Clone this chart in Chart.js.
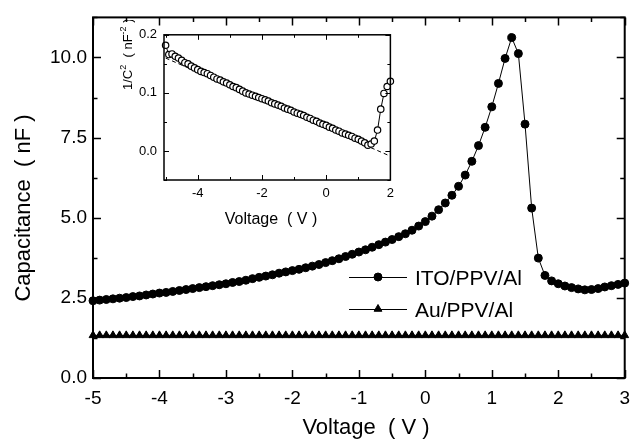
<!DOCTYPE html>
<html>
<head>
<meta charset="utf-8">
<title>C-V</title>
<script src="https://cdn.jsdelivr.net/npm/chart.js@4.4.1/dist/chart.umd.min.js"></script>
<style>
  html, body { margin: 0; padding: 0; background: #fff; }
  #wrap { position: relative; width: 639px; height: 445px; }
  #mainChart { position: absolute; left: 0; top: 0; }
  #insetChart { position: absolute; left: 110px; top: 20px; }
</style>
</head>
<body>
<div id="wrap">
  <canvas id="mainChart" width="639" height="445"></canvas>
  <canvas id="insetChart" width="290" height="215"></canvas>
</div>
<script>
// Bias voltage (V)
const voltage = [
  -5.0, -4.9, -4.8, -4.7, -4.6, -4.5, -4.4, -4.3, -4.2, -4.1,
  -4.0, -3.9, -3.8, -3.7, -3.6, -3.5, -3.4, -3.3, -3.2, -3.1,
  -3.0, -2.9, -2.8, -2.7, -2.6, -2.5, -2.4, -2.3, -2.2, -2.1,
  -2.0, -1.9, -1.8, -1.7, -1.6, -1.5, -1.4, -1.3, -1.2, -1.1,
  -1.0, -0.9, -0.8, -0.7, -0.6, -0.5, -0.4, -0.3, -0.2, -0.1,
  0.0, 0.1, 0.2, 0.3, 0.4, 0.5, 0.6, 0.7, 0.8, 0.9,
  1.0, 1.1, 1.2, 1.3, 1.4, 1.5, 1.6, 1.7, 1.8, 1.9,
  2.0, 2.1, 2.2, 2.3, 2.4, 2.5, 2.6, 2.7, 2.8, 2.9,
  3.0
];

// capacitance of ITO/PPV/Al (nF)
const capITO = [
  2.41, 2.43, 2.45, 2.47, 2.49, 2.51, 2.54, 2.56, 2.59, 2.62,
  2.65, 2.67, 2.70, 2.73, 2.76, 2.79, 2.82, 2.85, 2.88, 2.91,
  2.94, 2.98, 3.01, 3.05, 3.10, 3.14, 3.18, 3.22, 3.27, 3.31,
  3.35, 3.39, 3.44, 3.49, 3.54, 3.60, 3.66, 3.72, 3.79, 3.86,
  3.93, 4.00, 4.08, 4.16, 4.24, 4.32, 4.41, 4.50, 4.61, 4.74,
  4.88, 5.05, 5.25, 5.46, 5.70, 5.98, 6.33, 6.76, 7.25, 7.82,
  8.46, 9.19, 9.97, 10.62, 10.12, 7.92, 5.30, 3.74, 3.20, 3.03,
  2.94, 2.87, 2.82, 2.78, 2.75, 2.76, 2.79, 2.84, 2.88, 2.92,
  2.96
];

// capacitance of Au/PPV/Al (nF)
const capAu = [
  1.33, 1.33, 1.33, 1.33, 1.33, 1.33, 1.33, 1.33, 1.33, 1.33,
  1.33, 1.33, 1.33, 1.33, 1.33, 1.33, 1.33, 1.33, 1.33, 1.33,
  1.33, 1.33, 1.33, 1.33, 1.33, 1.33, 1.33, 1.33, 1.33, 1.33,
  1.33, 1.33, 1.33, 1.33, 1.33, 1.33, 1.33, 1.33, 1.33, 1.33,
  1.33, 1.33, 1.33, 1.33, 1.33, 1.33, 1.33, 1.33, 1.33, 1.33,
  1.33, 1.33, 1.33, 1.33, 1.33, 1.33, 1.33, 1.33, 1.33, 1.33,
  1.33, 1.33, 1.33, 1.33, 1.33, 1.33, 1.33, 1.33, 1.33, 1.33,
  1.33, 1.33, 1.33, 1.33, 1.33, 1.33, 1.33, 1.33, 1.33, 1.33,
  1.33
];

// inset: 1/C^2 of ITO/PPV/Al from -5 V to 2 V (nF^-2)
const invC2 = [
  0.182, 0.166, 0.167, 0.163, 0.160, 0.156, 0.152, 0.150, 0.146, 0.143,
  0.140, 0.137, 0.135, 0.133, 0.130, 0.127, 0.124, 0.122, 0.119, 0.117,
  0.114, 0.111, 0.109, 0.106, 0.103, 0.100, 0.098, 0.096, 0.094, 0.092,
  0.090, 0.088, 0.086, 0.083, 0.081, 0.079, 0.077, 0.074, 0.072, 0.070,
  0.067, 0.065, 0.063, 0.061, 0.058, 0.056, 0.053, 0.051, 0.048, 0.046,
  0.044, 0.041, 0.039, 0.036, 0.034, 0.031, 0.029, 0.027, 0.025, 0.022,
  0.020, 0.017, 0.014, 0.010, 0.012, 0.017, 0.036, 0.072, 0.099, 0.111,
  0.120
];

// linear fit of the depletion region (dashed)
const fitVoltage = [-5, 2];
const fitInvC2 = [0.160, -0.009];

// tick labels
const mainXTicks = [-5, -4, -3, -2, -1, 0, 1, 2, 3];
const mainYTicks = ['0.0', '2.5', '5.0', '7.5', '10.0'];
const insetXTicks = [-4, -2, 0, 2];
const insetYTicks = ['0.0', '0.1', '0.2'];

const FONT = "'Liberation Sans', Arial, Helvetica, sans-serif";

function pairs(xs, ys) {
  return ys.map((y, i) => ({ x: xs[i], y: y }));
}

// frame box plus inward ticks on all four sides
const frameTicks = {
  id: 'frameTicks',
  afterDatasetsDraw(chart, args, o) {
    const { ctx, chartArea: a, scales: { x, y } } = chart;
    ctx.save();
    ctx.strokeStyle = '#000';
    ctx.lineWidth = o.tickWidth;
    ctx.beginPath();
    const nx = Math.round((x.max - o.xFrom) / o.xMinor);
    for (let i = 0; i <= nx; i++) {
      const v = o.xFrom + i * o.xMinor;
      const r = v / o.xMajor;
      const len = Math.abs(r - Math.round(r)) < 1e-6 ? o.major : o.minor;
      const px = Math.round(x.getPixelForValue(v)) + 0.5;
      ctx.moveTo(px, a.bottom); ctx.lineTo(px, a.bottom - len);
      ctx.moveTo(px, a.top); ctx.lineTo(px, a.top + len);
    }
    const ny = Math.round((y.max - o.yFrom) / o.yMinor);
    for (let i = 0; i <= ny; i++) {
      const v = o.yFrom + i * o.yMinor;
      const r = v / o.yMajor;
      const len = Math.abs(r - Math.round(r)) < 1e-6 ? o.major : o.minor;
      const py = Math.round(y.getPixelForValue(v)) + 0.5;
      ctx.moveTo(a.left, py); ctx.lineTo(a.left + len, py);
      ctx.moveTo(a.right, py); ctx.lineTo(a.right - len, py);
    }
    ctx.stroke();
    ctx.lineWidth = o.frameWidth;
    ctx.strokeRect(a.left, a.top, a.right - a.left, a.bottom - a.top);
    ctx.restore();
  }
};

// free text (axis titles) with optional superscripts
const textItems = {
  id: 'textItems',
  afterDraw(chart, args, o) {
    const ctx = chart.ctx;
    o.items.forEach(item => {
      const sup = Math.round(item.size * 0.68);
      ctx.save();
      ctx.translate(item.x, item.y);
      if (item.rot) ctx.rotate(item.rot * Math.PI / 180);
      ctx.fillStyle = '#000';
      ctx.textAlign = 'left';
      ctx.textBaseline = 'alphabetic';
      let total = 0;
      item.parts.forEach(p => {
        ctx.font = (p.sup ? sup : item.size) + 'px ' + FONT;
        total += ctx.measureText(p.t).width;
      });
      let cx = item.align === 'center' ? -total / 2 : 0;
      item.parts.forEach(p => {
        ctx.font = (p.sup ? sup : item.size) + 'px ' + FONT;
        ctx.fillText(p.t, cx, p.sup ? -item.size * 0.45 : 0);
        cx += ctx.measureText(p.t).width;
      });
      ctx.restore();
    });
  }
};

// legend: short line with marker, then the label
const lineLegend = {
  id: 'lineLegend',
  afterDraw(chart, args, o) {
    const ctx = chart.ctx;
    chart.data.datasets.forEach((ds, i) => {
      const row = o.rows[i];
      ctx.save();
      ctx.strokeStyle = ds.borderColor;
      ctx.lineWidth = ds.borderWidth;
      ctx.beginPath();
      ctx.moveTo(o.x0, row + 0.5);
      ctx.lineTo(o.x1, row + 0.5);
      ctx.stroke();
      ctx.fillStyle = ds.pointBackgroundColor;
      ctx.strokeStyle = ds.pointBorderColor;
      Chart.helpers.drawPoint(ctx, {
        pointStyle: ds.pointStyle, radius: ds.pointRadius, rotation: 0,
        borderWidth: ds.pointBorderWidth
      }, (o.x0 + o.x1) / 2, row);
      ctx.fillStyle = '#000';
      ctx.font = o.size + 'px ' + FONT;
      ctx.textAlign = 'left';
      ctx.textBaseline = 'alphabetic';
      ctx.fillText(ds.label, o.textX, row + o.shift);
      ctx.restore();
    });
  }
};

function tickFont(size) {
  return { family: FONT, size: size };
}

new Chart(document.getElementById('mainChart'), {
  type: 'line',
  data: {
    datasets: [
      {
        label: 'ITO/PPV/Al',
        data: pairs(voltage, capITO),
        borderColor: '#000',
        borderWidth: 1,
        pointStyle: 'circle',
        pointRadius: 4,
        pointBackgroundColor: '#000',
        pointBorderColor: '#000',
        pointBorderWidth: 1,
        tension: 0,
        clip: false
      },
      {
        label: 'Au/PPV/Al',
        data: pairs(voltage, capAu),
        borderColor: '#000',
        borderWidth: 1,
        pointStyle: 'triangle',
        pointRadius: 4.5,
        pointBackgroundColor: '#000',
        pointBorderColor: '#000',
        pointBorderWidth: 1,
        tension: 0,
        clip: false
      }
    ]
  },
  options: {
    responsive: false,
    animation: false,
    events: [],
    layout: { padding: { top: 7, right: 5, left: 0, bottom: 0 } },
    plugins: {
      legend: { display: false },
      tooltip: { enabled: false },
      frameTicks: {
        xFrom: -5, xMinor: 0.5, xMajor: 1,
        yFrom: 0, yMinor: 1.25, yMajor: 2.5,
        major: 8, minor: 4.5, tickWidth: 1.5, frameWidth: 2
      },
      lineLegend: { x0: 349, x1: 407, rows: [277, 309], textX: 415, shift: 8, size: 21 },
      textItems: {
        items: [
          { parts: [{ t: 'Capacitance  ( nF )' }], x: 30, y: 208, rot: -90, align: 'center', size: 22 },
          { parts: [{ t: 'Voltage  ( V )' }], x: 366, y: 434, align: 'center', size: 22 }
        ]
      }
    },
    scales: {
      x: {
        type: 'linear', min: mainXTicks[0], max: mainXTicks[mainXTicks.length - 1],
        afterFit(s) { s.height = 67; },
        grid: { display: false, drawTicks: false },
        border: { display: false },
        ticks: {
          stepSize: 1, autoSkip: false, maxRotation: 0, padding: 9,
          color: '#000', font: tickFont(19),
          callback: v => mainXTicks.includes(v) ? String(v) : ''
        }
      },
      y: {
        type: 'linear', min: 0, max: 11.25,
        afterFit(s) { s.width = 93; },
        grid: { display: false, drawTicks: false },
        border: { display: false },
        ticks: {
          stepSize: 2.5, includeBounds: false, autoSkip: false, padding: 6,
          color: '#000', font: tickFont(19),
          callback: v => mainYTicks.includes(v.toFixed(1)) ? v.toFixed(1) : ''
        }
      }
    }
  },
  plugins: [frameTicks, lineLegend, textItems]
});

new Chart(document.getElementById('insetChart'), {
  type: 'line',
  data: {
    datasets: [
      {
        label: '1/C2',
        data: pairs(voltage.slice(0, invC2.length), invC2),
        borderColor: '#000',
        borderWidth: 1,
        pointStyle: 'circle',
        pointRadius: 3.2,
        pointBackgroundColor: '#fff',
        pointBorderColor: '#000',
        pointBorderWidth: 1.2,
        tension: 0,
        clip: false,
        order: 1
      },
      {
        label: 'fit',
        data: pairs(fitVoltage, fitInvC2),
        borderColor: '#000',
        borderWidth: 1,
        borderDash: [4, 3],
        pointRadius: 0,
        tension: 0,
        order: 2
      }
    ]
  },
  options: {
    responsive: false,
    animation: false,
    events: [],
    layout: { padding: { top: 12, right: 8, left: 0, bottom: 0 } },
    plugins: {
      legend: { display: false },
      tooltip: { enabled: false },
      frameTicks: {
        xFrom: -5, xMinor: 1, xMajor: 2,
        yFrom: -0.05, yMinor: 0.05, yMajor: 0.1,
        major: 5, minor: 3, tickWidth: 1, frameWidth: 1.5
      },
      textItems: {
        items: [
          {
            parts: [{ t: '1/C' }, { t: '2', sup: true }, { t: '  ( nF' }, { t: '-2', sup: true }, { t: ' )' }],
            x: 22, y: 70, rot: -90, align: 'left', size: 13
          },
          { parts: [{ t: 'Voltage  ( V )' }], x: 161, y: 204, align: 'center', size: 16 }
        ]
      }
    },
    scales: {
      x: {
        type: 'linear', min: -5.05, max: 2,
        afterFit(s) { s.height = 55; },
        grid: { display: false, drawTicks: false },
        border: { display: false },
        ticks: {
          stepSize: 2, includeBounds: false, autoSkip: false, maxRotation: 0, padding: 6,
          color: '#000', font: tickFont(13),
          callback: v => insetXTicks.includes(v) ? String(v) : ''
        }
      },
      y: {
        type: 'linear', min: -0.05, max: 0.2,
        afterFit(s) { s.width = 54; },
        grid: { display: false, drawTicks: false },
        border: { display: false },
        ticks: {
          stepSize: 0.1, includeBounds: false, autoSkip: false, padding: 7,
          color: '#000', font: tickFont(13),
          callback: v => insetYTicks.includes(v.toFixed(1)) ? v.toFixed(1) : ''
        }
      }
    }
  },
  plugins: [frameTicks, textItems]
});
</script>
</body>
</html>
